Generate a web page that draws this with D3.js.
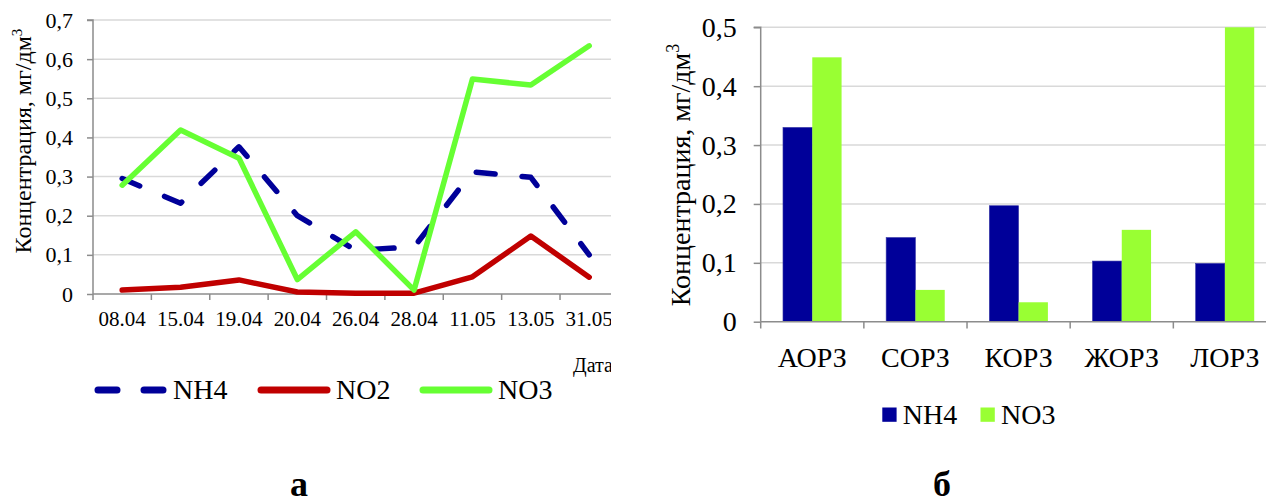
<!DOCTYPE html>
<html><head><meta charset="utf-8">
<script src="https://cdn.jsdelivr.net/npm/d3@7"></script>
<style>
html,body{margin:0;padding:0;background:#fff;}
svg{display:block;}
</style></head>
<body>
<svg id="c" width="1266" height="503"></svg>
<script>
// ---- Data: panel a (line chart) ----
const dates = ["08.04","15.04","19.04","20.04","26.04","28.04","11.05","13.05","31.05"];
const nh4Line = [0.295,0.232,0.376,0.200,0.112,0.120,0.312,0.298,0.100];
const no2Line = [0.010,0.017,0.036,0.005,0.002,0.002,0.044,0.148,0.043];
const no3Line = [0.278,0.419,0.347,0.037,0.159,0.010,0.549,0.534,0.634];
const leftTicks = [0,0.1,0.2,0.3,0.4,0.5,0.6,0.7];
const leftTickLabels = ["0","0,1","0,2","0,3","0,4","0,5","0,6","0,7"];

// ---- Data: panel б (bar chart) ----
const zones = ["АОРЗ","СОРЗ","КОРЗ","ЖОРЗ","ЛОРЗ"];
const nh4Bar = [0.330,0.143,0.197,0.103,0.099];
const no3Bar = [0.449,0.054,0.033,0.156,0.500];
const rightTicks = [0,0.1,0.2,0.3,0.4,0.5];
const rightTickLabels = ["0","0,1","0,2","0,3","0,4","0,5"];

const FONT = '"Times New Roman", Tinos, "Nimbus Roman", serif';
const svg = d3.select("#c");
const AXIS = "#8c8c8c", GRID = "#d9d9d9";
const C_NH4 = "#000099", C_NO2 = "#c00000", C_NO3L = "#66ff33", C_NO3B = "#99ff33";

// ================= Panel a =================
svg.append("defs").append("clipPath").attr("id","clipA")
  .append("rect").attr("x",0).attr("y",0).attr("width",611).attr("height",503);
const gA = svg.append("g").attr("clip-path","url(#clipA)");

const xA = d3.scalePoint().domain(dates).range([93, 618.4]).padding(0.5);
const yA = d3.scaleLinear().domain([0,0.7]).range([294, 20]);
const stepA = xA.step();

gA.append("g").selectAll("line").data(leftTicks.filter(d=>d>0)).join("line")
  .attr("x1",93).attr("x2",618).attr("y1",d=>yA(d)).attr("y2",d=>yA(d))
  .attr("stroke",GRID).attr("stroke-width",1.5);

const yAxisA = d3.axisLeft(yA).tickValues(leftTicks)
  .tickFormat((d,i)=>leftTickLabels[i]).tickSize(6).tickPadding(14);
const gyA = gA.append("g").attr("transform","translate(93,0)").call(yAxisA);
gyA.select(".domain").attr("stroke",AXIS).attr("stroke-width",1.5).attr("d","M-6,20H0V294");
gyA.selectAll(".tick line").attr("stroke",AXIS).attr("stroke-width",1.5);
gyA.selectAll(".tick text").attr("font-size",22).attr("fill","#000");

const bottomA = gA.append("g");
bottomA.append("line").attr("x1",93).attr("x2",618).attr("y1",294).attr("y2",294)
  .attr("stroke",AXIS).attr("stroke-width",1.5);
const tickPosA = dates.map(d=>xA(d)-stepA/2).concat([xA(dates[dates.length-1])+stepA/2]);
bottomA.selectAll("line.t").data(tickPosA).join("line").attr("class","t")
  .attr("x1",d=>d).attr("x2",d=>d).attr("y1",294).attr("y2",300)
  .attr("stroke",AXIS).attr("stroke-width",1.5);
bottomA.selectAll("text").data(dates).join("text")
  .attr("x",d=>xA(d)).attr("y",326).attr("text-anchor","middle")
  .attr("font-size",21).text(d=>d);

const lineGen = d3.line().x((d,i)=>xA(dates[i])).y(d=>yA(d));
gA.append("path").datum(no2Line).attr("d",lineGen).attr("fill","none")
  .attr("stroke",C_NO2).attr("stroke-width",5.5).attr("stroke-linejoin","round").attr("stroke-linecap","round");
gA.append("path").datum(nh4Line).attr("d",lineGen).attr("fill","none")
  .attr("stroke",C_NH4).attr("stroke-width",5.5).attr("stroke-dasharray","19,27")
  .attr("stroke-linejoin","round").attr("stroke-linecap","round");
gA.append("path").datum(no3Line).attr("d",lineGen).attr("fill","none")
  .attr("stroke",C_NO3L).attr("stroke-width",5.5).attr("stroke-linejoin","round").attr("stroke-linecap","round");

gA.append("text").attr("transform","translate(31,141) rotate(-90)").attr("text-anchor","middle")
  .attr("font-size",24).text("Концентрация, мг/дм")
  .append("tspan").attr("font-size",15).attr("dy",-9).text("3");
gA.append("text").attr("x",573).attr("y",372).attr("font-size",20).text("Дата");

const legA = [
  {name:"NH4", color:C_NH4, dash:"19,27", x:98},
  {name:"NO2", color:C_NO2, dash:null, x:261},
  {name:"NO3", color:C_NO3L, dash:null, x:423}
];
legA.forEach(l=>{
  gA.append("line").attr("x1",l.x).attr("x2",l.x+66).attr("y1",390).attr("y2",390)
    .attr("stroke",l.color).attr("stroke-width",7).attr("stroke-linecap","round")
    .attr("stroke-dasharray",l.dash);
  gA.append("text").attr("x",l.x+75).attr("y",399).attr("font-size",28).text(l.name);
});
svg.append("text").attr("x",299).attr("y",496).attr("text-anchor","middle")
  .attr("font-size",36).attr("font-weight","bold").text("а");

// ================= Panel б =================
const gB = svg.append("g");
const x0 = d3.scaleBand().domain(zones).range([760.7, 1276.5]).paddingInner(0.432).paddingOuter(0.216);
const x1 = d3.scaleBand().domain(["NH4","NO3"]).range([0, x0.bandwidth()]);
const yB = d3.scaleLinear().domain([0,0.5]).range([321.7, 27.3]);
const stepB = x0.step();

gB.append("g").selectAll("line").data(rightTicks.filter(d=>d>0)).join("line")
  .attr("x1",760.7).attr("x2",1266).attr("y1",d=>yB(d)).attr("y2",d=>yB(d))
  .attr("stroke",GRID).attr("stroke-width",1.5);

const groups = gB.append("g").selectAll("g").data(zones).join("g")
  .attr("transform",d=>`translate(${x0(d)},0)`);
groups.append("rect").attr("x",x1("NH4")).attr("width",x1.bandwidth())
  .attr("y",(d,i)=>yB(nh4Bar[i])).attr("height",(d,i)=>yB(0)-yB(nh4Bar[i]))
  .attr("fill",C_NH4).attr("stroke","#3a3aa8").attr("stroke-width",0.6);
groups.append("rect").attr("x",x1("NO3")).attr("width",x1.bandwidth())
  .attr("y",(d,i)=>yB(no3Bar[i])).attr("height",(d,i)=>yB(0)-yB(no3Bar[i]))
  .attr("fill",C_NO3B);

const yAxisB = d3.axisLeft(yB).tickValues(rightTicks)
  .tickFormat((d,i)=>rightTickLabels[i]).tickSize(7).tickPadding(17);
const gyB = gB.append("g").attr("transform","translate(760.7,0)").call(yAxisB);
gyB.select(".domain").attr("stroke",AXIS).attr("stroke-width",1.5).attr("d","M-7,27.3H0V321.7");
gyB.selectAll(".tick line").attr("stroke",AXIS).attr("stroke-width",1.5);
gyB.selectAll(".tick text").attr("font-size",28).attr("fill","#000");

gB.append("line").attr("x1",760.7).attr("x2",1266).attr("y1",321.7).attr("y2",321.7)
  .attr("stroke",AXIS).attr("stroke-width",1.5);
const tickPosB = zones.map(d=>x0(d)-stepB*0.216);
gB.selectAll("line.t").data(tickPosB).join("line").attr("class","t")
  .attr("x1",d=>d).attr("x2",d=>d).attr("y1",321.7).attr("y2",328.5)
  .attr("stroke",AXIS).attr("stroke-width",1.5);
gB.selectAll("text.xl").data(zones).join("text").attr("class","xl")
  .attr("x",d=>x0(d)+x0.bandwidth()/2).attr("y",367).attr("text-anchor","middle")
  .attr("font-size",28).text(d=>d);

gB.append("text").attr("transform","translate(690,175) rotate(-90)").attr("text-anchor","middle")
  .attr("font-size",28).text("Концентрация, мг/дм")
  .append("tspan").attr("font-size",18).attr("dy",-11).text("3");

const legB = [{name:"NH4", color:C_NH4, x:882.3},{name:"NO3", color:C_NO3B, x:980.5}];
legB.forEach(l=>{
  gB.append("rect").attr("x",l.x).attr("y",407.5).attr("width",14.3).attr("height",14.3).attr("fill",l.color);
  gB.append("text").attr("x",l.x+20.5).attr("y",424).attr("font-size",28).text(l.name);
});
svg.append("text").attr("x",942).attr("y",496).attr("text-anchor","middle")
  .attr("font-size",36).attr("font-weight","bold").text("б");

// apply the serif font to every text directly
svg.selectAll("g").filter(function(){return this.hasAttribute("font-family");}).attr("font-family",null);
svg.selectAll("text, tspan").style("font-family", FONT);
</script>
</body></html>
